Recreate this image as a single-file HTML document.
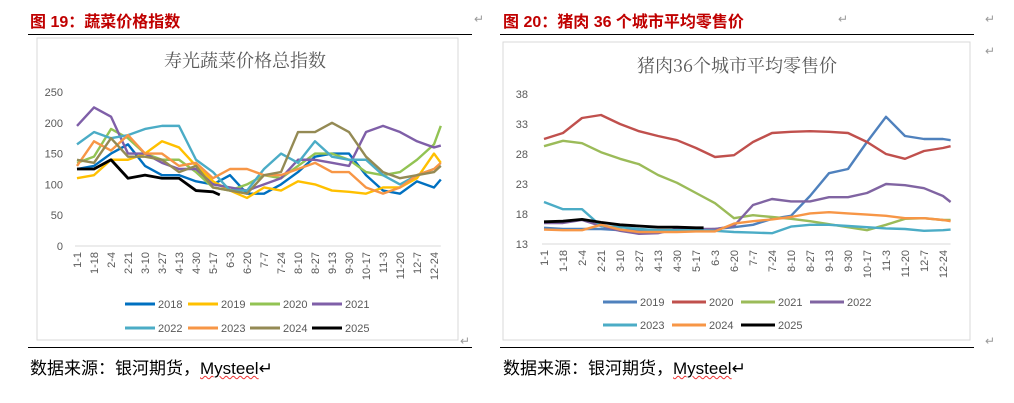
<!DOCTYPE html>
<html><head><meta charset="utf-8"><style>
body{margin:0;width:1014px;height:403px;background:#fff;overflow:hidden;font-family:"Liberation Sans","Noto Sans CJK SC",sans-serif;position:relative}
.h{position:absolute;top:8px;font-size:16px;font-weight:bold;color:#c00000}
.src{position:absolute;top:354px;font-size:17px;color:#000}
.ul{text-decoration:underline wavy #e33;text-decoration-thickness:1px}
.rule{position:absolute;height:1px;background:#000}
.mk{position:absolute;color:#999;font-size:12px}
</style></head><body>
<div class="h" style="left:30px">图 19：蔬菜价格指数</div>
<div class="h" style="left:503px">图 20：猪肉 36 个城市平均零售价</div>
<div class="rule" style="left:28px;top:34px;width:444px"></div>
<div class="rule" style="left:500px;top:34px;width:474px"></div>
<div class="rule" style="left:28px;top:347px;width:444px"></div>
<div class="rule" style="left:500px;top:347px;width:474px"></div>
<div class="src" style="left:30px">数据来源：银河期货，<span class="ul">Mysteel</span>↵</div>
<div class="src" style="left:503px">数据来源：银河期货，<span class="ul">Mysteel</span>↵</div>
<svg id="svg" width="1014" height="403" style="position:absolute;left:0;top:0"></svg>
<script>
const cats=["1-1","1-18","2-4","2-21","3-10","3-27","4-13","4-30","5-17","6-3","6-20","7-7","7-24","8-10","8-27","9-13","9-30","10-17","11-3","11-20","12-7","12-24"];
const veg2018=[125,130,150,165,130,115,115,105,100,115,85,85,100,120,145,150,150,115,90,85,105,95,108];
const veg2019=[110,115,140,140,150,170,160,130,105,90,78,95,90,105,100,90,88,85,95,95,110,150,135];
const veg2020=[135,145,190,175,150,140,140,120,95,90,100,115,110,130,150,150,140,120,115,120,140,165,195];
const veg2021=[195,225,210,150,150,135,125,125,100,95,90,100,110,140,140,135,130,185,195,185,170,160,163];
const veg2022=[165,185,175,180,190,195,195,140,120,90,90,125,150,135,170,145,140,140,115,100,115,125,130];
const veg2023=[130,170,155,180,150,150,130,135,110,125,125,115,115,125,135,120,120,95,85,95,115,125,135];
const veg2024=[140,135,175,145,145,140,120,130,95,90,85,115,120,185,185,200,185,145,120,110,115,120,130];
const veg2025=[125,125,140,110,115,110,110,90,88,83];
const vegTicks=[0,50,100,150,200,250];
const pork2019=[15.7,15.5,15.5,15.5,15.3,15.3,15.3,15.3,15.3,15.5,15.8,16.2,17.2,17.7,21,24.8,25.5,30,34.2,31,30.5,30.5,30.3];
const pork2020=[30.5,31.5,34,34.5,33,31.8,31,30.3,29,27.5,27.8,30,31.5,31.7,31.8,31.7,31.5,30,28,27.2,28.5,29,29.3];
const pork2021=[29.3,30.2,29.8,28.3,27.2,26.3,24.5,23.2,21.5,19.8,17.3,17.8,17.5,17.2,16.8,16.3,15.8,15.3,16.2,17.2,17.3,17,17];
const pork2022=[16.5,16.5,17,16,15.2,14.7,14.8,15.5,15.5,15.5,16,19.5,20.5,20.1,20.1,20.8,20.8,21.5,23,22.8,22.3,21,20];
const pork2023=[20,18.8,18.8,16,15.8,15.5,15.3,15.3,15.3,15.2,15,14.9,14.8,15.9,16.2,16.2,16,15.8,15.6,15.5,15.2,15.3,15.4];
const pork2024=[15.4,15.3,15.3,16.2,15.4,15,15,15,15.1,15.1,16.4,16.8,17.1,17.5,18.1,18.3,18.1,17.9,17.7,17.3,17.3,17,16.8];
const pork2025=[16.7,16.8,17.1,16.6,16.2,16,15.8,15.8,15.7,15.7];
const porkTicks=[13,18,23,28,33,38];
const NS="http://www.w3.org/2000/svg",svg=document.getElementById('svg');
function el(t,a,p){const e=document.createElementNS(NS,t);for(const k in a)e.setAttribute(k,a[k]);(p||svg).appendChild(e);return e;}
function chart(c){
  const g=el('g',{});
  
  
  const box=el('rect',{x:c.box[0],y:c.box[1],width:c.box[2],height:c.box[3],fill:'#fff',stroke:'#d9d9d9'},g);
  
  
  const t=el('text',{x:c.tx,y:c.ty,'text-anchor':'middle','font-size':18,fill:'#595959','font-family':'"Noto Serif CJK SC",serif'},g);
  t.textContent=c.title;
  
  
  const X=i=>c.x0+i*c.dx, Y=v=>c.y0-(v-c.vmin)*(c.y0-c.y1)/(c.vmax-c.vmin);
  c.ticks.forEach(v=>{const e=el('text',{x:c.yl,y:Y(v)+4,'text-anchor':'end','font-size':11,fill:'#595959'},g);e.textContent=v;
    
    });
  el('line',{x1:X(0)-2,x2:X(22)-c.dx*0.6,y1:Y(c.vmin),y2:Y(c.vmin),stroke:'#d9d9d9'},g);
  cats.forEach((s,i)=>{const e=el('text',{transform:`translate(${X(i)+4},${Y(c.vmin)+6}) rotate(-90)`,'text-anchor':'end','font-size':11,fill:'#595959'},g);e.textContent=s;
    
    });
  c.series.forEach((s,k)=>{
    const step=s.step||1;
    const pts=s.d.map((v,i)=>{const xi=(i===s.d.length-1&&s.endIdx)?s.endIdx:(i===22?21.4:i);return X(xi)+','+Y(v);}).join(' ');
    const p=el('polyline',{points:pts,fill:'none',stroke:s.c,'stroke-width':s.w||2.4,'stroke-linejoin':'round'},g);
    
    
    const lx=c.lx[k%4],ly=c.ly[Math.floor(k/4)];
    const ll=el('line',{x1:lx,x2:lx+c.ll,y1:ly,y2:ly,stroke:s.c,'stroke-width':3},g);
    
    
    const lt=el('text',{x:lx+c.ll+3,y:ly+4,'font-size':11,fill:'#595959'},g);lt.textContent=s.n;
    
    
  });
}
chart({name:'vegetable-price-chart',box:[37,38,421,302],title:'寿光蔬菜价格总指数',tx:245,ty:67,x0:77,dx:17,y0:246,y1:92,vmin:0,vmax:250,ticks:vegTicks,yl:63,
 lx:[125,188,250,312],ly:[304,328],ll:30,
 series:[{n:'2018',c:'#0070c0',d:veg2018},{n:'2019',c:'#ffc000',d:veg2019},{n:'2020',c:'#92c353',d:veg2020},{n:'2021',c:'#7f5fa8',d:veg2021},
 {n:'2022',c:'#4bacc6',d:veg2022},{n:'2023',c:'#f79646',d:veg2023},{n:'2024',c:'#948a54',d:veg2024},{n:'2025',c:'#000',d:veg2025,endIdx:8.4,w:2.8}]});
chart({name:'pork-price-chart',box:[503,42,467,298],title:'猪肉36个城市平均零售价',tx:737,ty:72,x0:544,dx:19,y0:244,y1:94,vmin:13,vmax:38,ticks:porkTicks,yl:528,
 lx:[603,672,741,810],ly:[302,325],ll:34,
 series:[{n:'2019',c:'#4f81bd',d:pork2019},{n:'2020',c:'#c0504d',d:pork2020},{n:'2021',c:'#9bbb59',d:pork2021},{n:'2022',c:'#8064a2',d:pork2022},
 {n:'2023',c:'#4bacc6',d:pork2023},{n:'2024',c:'#f79646',d:pork2024},{n:'2025',c:'#000',d:pork2025,endIdx:8.4,w:2.8}]});
</script>
<div class="mk" style="left:474px;top:12px">↵</div><div class="mk" style="left:838px;top:12px">↵</div>
<div class="mk" style="left:985px;top:12px">↵</div><div class="mk" style="left:985px;top:44px">↵</div>
<div class="mk" style="left:460px;top:334px">↵</div><div class="mk" style="left:985px;top:334px">↵</div>
</body></html>
